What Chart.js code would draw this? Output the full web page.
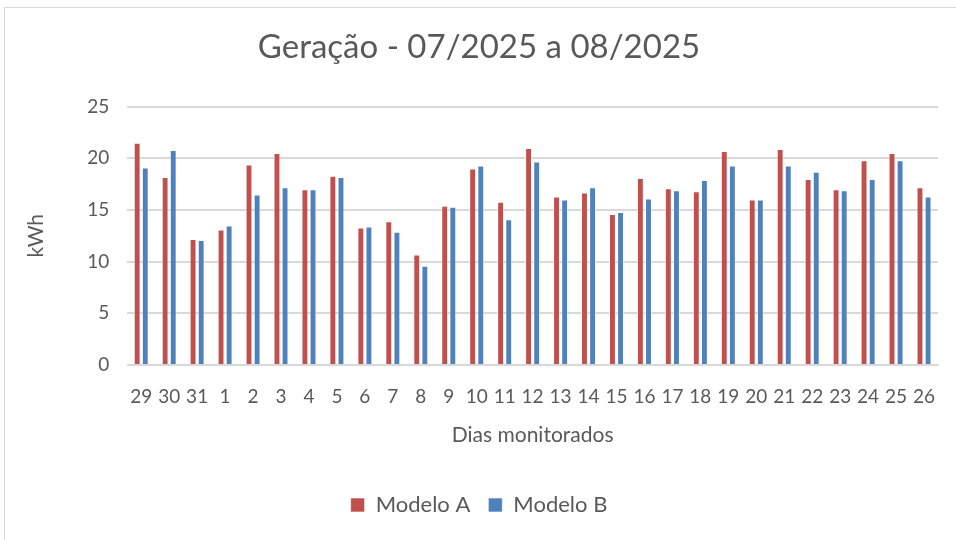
<!DOCTYPE html>
<html>
<head>
<meta charset="utf-8">
<script src="https://cdn.jsdelivr.net/npm/chart.js@4.4.0/dist/chart.umd.min.js"></script>
<style>
  body { margin: 0; background: #fff; }
  #wrap { position: relative; width: 956px; height: 540px; }
  #frame { position: absolute; left: 4px; top: 7px; width: 970px; height: 560px; border: 1px solid #d9d9d9; }
  canvas { position: absolute; left: 0; top: 0; }
</style>
</head>
<body>
<div id="wrap">
  <div id="frame"></div>
  <canvas id="mycanvas" width="956" height="540"></canvas>
</div>
<script>
var dias = ['29','30','31','1','2','3','4','5','6','7','8','9','10','11','12','13','14','15','16','17','18','19','20','21','22','23','24','25','26'];
var modeloA = [21.5,18.2,12.2,13.1,19.4,20.5,17.0,18.3,13.3,13.9,10.7,15.4,19.0,15.8,21.0,16.3,16.7,14.6,18.1,17.1,16.8,20.7,16.0,20.9,18.0,17.0,19.8,20.5,17.2];
var modeloB = [19.1,20.8,12.1,13.5,16.5,17.2,17.0,18.2,13.4,12.9,9.6,15.3,19.3,14.1,19.7,16.0,17.2,14.8,16.1,16.9,17.9,19.3,16.0,19.3,18.7,16.9,18.0,19.8,16.3];

var textColor = '#595959';
var fontFam = 'Lato, "Open Sans", sans-serif';

var chartdata = {
  labels: dias,
  datasets: [
    {
      label: 'Modelo A',
      backgroundColor: '#C0504D',
      borderColor: 'rgba(255,255,255,0.6)',
      borderWidth: 1,
      data: modeloA
    },
    {
      label: 'Modelo B',
      backgroundColor: '#4F81BD',
      borderColor: 'rgba(255,255,255,0.6)',
      borderWidth: 1,
      data: modeloB
    }
  ]
};

var ctx = document.getElementById('mycanvas');
new Chart(ctx, {
  type: 'bar',
  data: chartdata,
  options: {
    responsive: false,
    animation: false,
    layout: { padding: { left: 20, right: 18, top: 18, bottom: 14 } },
    datasets: { bar: { categoryPercentage: 0.58, barPercentage: 0.85 } },
    plugins: {
      title: {
        display: true,
        text: 'Geração - 07/2025 a 08/2025',
        color: textColor,
        font: { family: fontFam, size: 33, weight: 'normal' },
        padding: { top: 10, bottom: 39 }
      },
      legend: {
        position: 'bottom',
        labels: {
          color: textColor,
          font: { family: fontFam, size: 22 },
          boxWidth: 14,
          boxHeight: 14,
          padding: 18
        }
      },
      tooltip: { enabled: false }
    },
    scales: {
      x: {
        grid: { display: false },
        border: { color: '#d9d9d9' },
        ticks: { color: textColor, font: { family: fontFam, size: 19 }, maxRotation: 0, autoSkip: false, padding: 12 },
        title: { display: true, text: 'Dias monitorados', color: textColor, font: { family: fontFam, size: 21 }, padding: { top: 3, bottom: 28 } }
      },
      y: {
        min: 0,
        max: 25,
        ticks: { stepSize: 5, color: textColor, font: { family: fontFam, size: 19 }, padding: 18 },
        grid: { color: '#d9d9d9', lineWidth: 2, drawTicks: false },
        border: { display: false },
        title: { display: true, text: 'kWh', color: textColor, font: { family: fontFam, size: 21 }, padding: { bottom: 20 } }
      }
    }
  }
});
</script>
</body>
</html>
